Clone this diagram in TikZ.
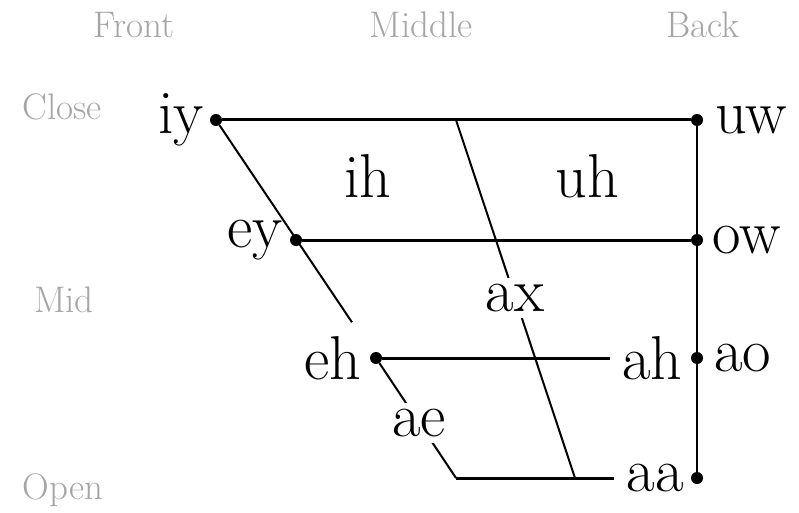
\documentclass[tikz,border=0pt]{standalone}
\usepackage{fontspec}
\usetikzlibrary{calc}
\definecolor{axisgrey}{RGB}{165,165,165}
\begin{document}
\begin{tikzpicture}[x=1pt,y=-1pt,
  dot/.style={circle,fill=black,inner sep=0pt,minimum size=12pt},
  vowel/.style={font=\fontsize{62}{66}\selectfont,inner sep=2pt},
  axislabel/.style={font=\fontsize{37}{40}\selectfont,text=axisgrey,inner sep=0pt},
  hline/.style={line width=3pt},
  sline/.style={line width=2pt},
  gap/.style={fill=white,inner sep=6pt}]
\path[use as bounding box] (0,0) rectangle (799,513);
% axis labels
\node[axislabel] (front) at (134,25) {Front};
\node[axislabel] (middle) at (421,25) {Middle};
\node[axislabel] (back) at (703,25) {Back};
\node[axislabel] (close) at (62,107) {Close};
\node[axislabel] (mid) at (64,300) {Mid};
\node[axislabel] (open) at (63,490) {Open};
% vowel dots
\node[dot,label={[vowel,name=iyl,label distance=4pt]left:iy}] (iy) at (216,120) {};
\node[dot,label={[vowel,name=uwl,label distance=10pt]right:uw}] (uw) at (697,120) {};
\node[dot,label={[vowel,name=eyl,label distance=5pt]left:ey}] (ey) at (296,240) {};
\node[dot,label={[vowel,name=owl,label distance=7pt]right:ow}] (ow) at (697,240) {};
\node[dot,label={[vowel,name=ehl,label distance=6pt]left:eh}] (eh) at (376,358) {};
\node[dot,label={[vowel,name=ahl,label distance=6pt]left:ah},label={[vowel,name=aol,label distance=9pt]right:ao}] (ahao) at (697,358) {};
\node[dot,label={[vowel,name=aal,label distance=5pt]left:aa}] (aa) at (697,478) {};
% free labels
\node[vowel] (ih) at (368,176) {ih};
\node[vowel] (uh) at (587,176) {uh};
% helper coordinates
\coordinate (c) at (456,478);
\coordinate (m1) at (456,120);
\coordinate (m2) at (575,478);
% lines
\draw[hline] (iy) -- (uw);
\draw[hline] (ey) -- (ow);
\draw[hline] (eh) -- ([xshift=-10pt]ahl.west);
\draw[hline] (c) -- ([xshift=-10pt]aal.west);
\draw[sline] (uw) -- (aa);
\draw[sline] (iy) -- ($(iy)!0.85!(eh)$);
\draw[sline] (eh) -- node[vowel,gap,pos=0.52] (ae) {ae} (c);
\draw[sline] (m1) -- node[vowel,gap,pos=0.497] (ax) {ax} (m2);
\end{tikzpicture}
\end{document}
